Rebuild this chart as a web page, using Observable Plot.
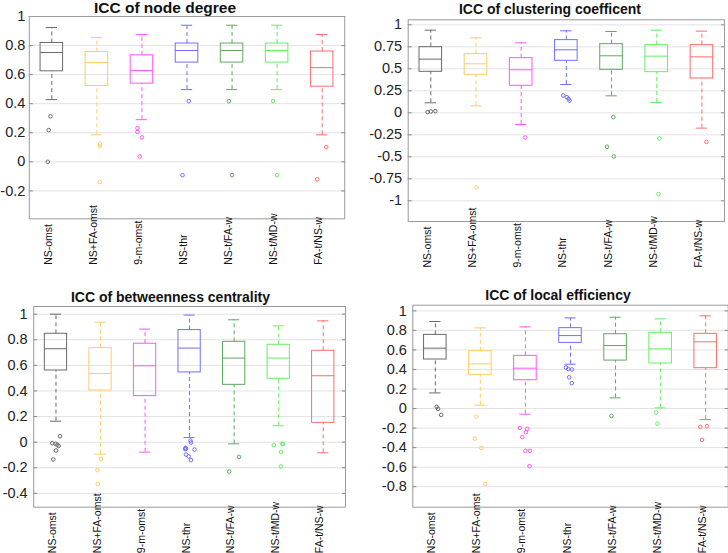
<!DOCTYPE html>
<html><head><meta charset="utf-8">
<script src="https://cdn.jsdelivr.net/npm/d3@7"></script>
<script src="https://cdn.jsdelivr.net/npm/@observablehq/plot@0.6"></script>
<style>
html,body{margin:0;padding:0;background:#fff;}
#chart{position:relative;width:728px;height:553px;overflow:hidden;background:#fff;font-family:"Liberation Sans",Arial,Helvetica,sans-serif;}
#chart svg{position:absolute;left:0;top:0;overflow:visible;}
</style></head><body><div id="chart"></div>
<script>
// ---- categories & colours ----
const methods = ["NS-omst","NS+FA-omst","9-m-omst","NS-thr","NS-t/FA-w","NS-t/MD-w","FA-t/NS-w"];
const methodColors = ["#6a6a6a","#ffcc66","#ff55ff","#6f6fff","#5fa85f","#63f063","#ff6b6b"];

// ---- box statistics: [lower whisker, Q1, median, Q3, upper whisker] per method ----
const nodeDegreeBoxes = [
  [0.428,0.623,0.752,0.818,0.924],
  [0.186,0.522,0.683,0.756,0.855],
  [0.290,0.538,0.628,0.733,0.876],
  [0.497,0.683,0.766,0.814,0.940],
  [0.497,0.683,0.766,0.814,0.940],
  [0.497,0.683,0.766,0.814,0.940],
  [0.186,0.517,0.648,0.759,0.876]
];
const clusteringBoxes = [
  [0.114,0.466,0.610,0.746,0.939],
  [0.080,0.432,0.557,0.667,0.852],
  [-0.133,0.307,0.489,0.621,0.795],
  [0.322,0.591,0.716,0.826,0.932],
  [0.193,0.489,0.648,0.780,0.924],
  [0.117,0.462,0.644,0.769,0.939],
  [-0.174,0.390,0.636,0.769,0.928]
];
const betweennessBoxes = [
  [0.164,0.560,0.730,0.847,1.000],
  [-0.094,0.404,0.537,0.735,0.938],
  [-0.078,0.360,0.597,0.769,0.883],
  [0.036,0.545,0.735,0.876,0.993],
  [-0.013,0.448,0.657,0.784,0.956],
  [0.128,0.495,0.657,0.761,0.909],
  [-0.083,0.151,0.519,0.714,0.948]
];
const localEfficiencyBoxes = [
  [0.160,0.502,0.618,0.754,0.891],
  [0.034,0.345,0.457,0.587,0.826],
  [-0.058,0.290,0.413,0.539,0.836],
  [0.454,0.672,0.747,0.823,0.928],
  [0.109,0.491,0.645,0.761,0.935],
  [0.007,0.461,0.611,0.775,0.918],
  [-0.113,0.413,0.683,0.765,0.949]
];

// ---- outliers: [method index, value, horizontal jitter] ----
const nodeDegreeOutliers = [
  [0,0.313,-0.03],[0,0.218,-0.07],[0,0.0,-0.09],
  [1,0.12,0.07],[1,0.106,0.06],[1,-0.14,0.06],
  [2,0.232,-0.1],[2,0.205,-0.1],[2,0.168,0.0],[2,0.037,-0.05],
  [3,0.418,0.04],[3,-0.092,-0.1],
  [4,0.418,-0.07],[4,-0.092,0],
  [5,0.418,-0.09],[5,-0.092,0],
  [6,0.101,0.09],[6,-0.12,-0.11]
];
const clusteringOutliers = [
  [0,0.008,-0.07],[0,0.015,0],[0,0.019,0.1],
  [1,-0.848,0.01],
  [2,-0.28,0.09],
  [3,0.197,-0.07],[3,0.178,0.01],[3,0.16,0.05],[3,0.14,0.07],
  [4,-0.049,0.04],[4,-0.386,-0.1],[4,-0.496,0.05],
  [5,-0.292,0.06],[5,-0.924,0.04],
  [6,-0.33,0.1]
];
const betweennessOutliers = [
  [0,0.047,0.09],[0,-0.008,-0.085],[0,-0.013,-0.01],[0,-0.02,0.03],[0,-0.029,0.06],[0,-0.065,0],[0,-0.135,-0.06],
  [1,-0.133,0.01],[1,-0.219,-0.07],[1,-0.326,-0.06],
  [3,0.012,0.02],[3,-0.003,0.03],[3,-0.045,-0.09],[3,-0.05,-0.08],[3,-0.055,-0.1],[3,-0.058,0.11],[3,-0.097,-0.08],[3,-0.112,-0.02],[3,-0.14,0.03],
  [4,-0.115,0.11],[4,-0.229,-0.11],
  [5,-0.023,-0.11],[5,-0.013,0.08],[5,-0.015,0.1],[5,-0.078,0.05],[5,-0.19,0.05]
];
const localEfficiencyOutliers = [
  [0,0.017,0.03],[0,-0.003,0.06],[0,-0.065,0.13],
  [1,-0.082,-0.09],[1,-0.307,-0.12],[1,-0.403,0.02],[1,-0.771,0.11],
  [2,-0.198,-0.12],[2,-0.208,0.04],[2,-0.242,0.01],[2,-0.293,-0.07],[2,-0.433,0],[2,-0.433,0.1],[2,-0.59,0.09],
  [3,0.42,-0.1],[3,0.405,-0.05],[3,0.4,0.03],[3,0.32,-0.03],[3,0.26,0.03],
  [4,-0.075,-0.09],
  [5,-0.041,-0.1],[5,-0.154,-0.07],
  [6,-0.188,-0.12],[6,-0.181,0.03],[6,-0.321,-0.08]
];

// ---- tick values ----
const nodeDegreeTicks = [-0.2,0,0.2,0.4,0.6,0.8,1];
const clusteringTicks = [-1,-0.75,-0.5,-0.25,0,0.25,0.5,0.75,1];
const betweennessTicks = [-0.4,-0.2,0,0.2,0.4,0.6,0.8,1];
const localEfficiencyTicks = [-0.8,-0.6,-0.4,-0.2,0,0.2,0.4,0.6,0.8,1];

// ---- panel layout ----
const W = 728, H = 553;
const panels = [
  {title:"ICC of node degree", boxes:nodeDegreeBoxes, outliers:nodeDegreeOutliers, ticks:nodeDegreeTicks,
   domain:[-0.392,1], L:28.8, R:344.2, T:16, B:218.3, pad:4, tx:165, ty:12.5, tsize:15.5},
  {title:"ICC of clustering coefficent", boxes:clusteringBoxes, outliers:clusteringOutliers, ticks:clusteringTicks,
   domain:[-1.235,1.057], L:407.7, R:724, T:19.3, B:221, pad:6, tx:550, ty:13.5, tsize:14},
  {title:"ICC of betweenness centrality", boxes:betweennessBoxes, outliers:betweennessOutliers, ticks:betweennessTicks,
   domain:[-0.508,1.06], L:33.2, R:345, T:306, B:506.7, pad:6, tx:170.5, ty:301.5, tsize:14},
  {title:"ICC of local efficiency", boxes:localEfficiencyBoxes, outliers:localEfficiencyOutliers, ticks:localEfficiencyTicks,
   domain:[-1.01,1.058], L:412.3, R:727.7, T:304.7, B:506.7, pad:6, tx:558, ty:300, tsize:14}
];

const chart = document.getElementById("chart");
const fmt = d => String(d);

for (const p of panels) {
  const stats = p.boxes.map((b,i) => ({pos:i+1, lo:b[0], q1:b[1], med:b[2], q3:b[3], hi:b[4], color:methodColors[i]}));
  const outs = p.outliers.map(o => ({pos:o[0]+1, value:o[1], jitter:o[2], color:methodColors[o[0]]}));
  const labels = methods.map((m,i) => ({pos:i+1, name:m}));
  const svg = Plot.plot({
    width: W, height: H,
    marginLeft: p.L, marginRight: W - p.R, marginTop: p.T, marginBottom: H - p.B,
    x: {domain:[0.5,7.5], axis:null},
    y: {domain:p.domain},
    color: {type:"identity"},
    style: {fontFamily:'"Liberation Sans",Arial,Helvetica,sans-serif', fontSize:"14.5px", background:"transparent", overflow:"visible", color:"#000"},
    marks: [
      Plot.gridY(p.ticks, {stroke:"#e2e2e2", strokeOpacity:1}),
      Plot.axisY({anchor:"left", ticks:p.ticks, tickSize:4, dx:4, tickFormat:()=>"", label:null, stroke:"#888"}),
      Plot.axisY({anchor:"right", ticks:p.ticks, tickSize:4, dx:-4, tickFormat:()=>"", label:null, stroke:"#888"}),
      Plot.axisY({anchor:"left", ticks:p.ticks, tickSize:0, tickPadding:p.pad, tickFormat:fmt, label:null, fontSize:14.5, fill:"#222"}),
      Plot.frame({stroke:"#9a9a9a"}),
      Plot.ruleX(stats, {x:"pos", y1:"q3", y2:"hi", stroke:"color", strokeDasharray:"4,3"}),
      Plot.ruleX(stats, {x:"pos", y1:"lo", y2:"q1", stroke:"color", strokeDasharray:"4,3"}),
      Plot.ruleY(stats, {y:"hi", x1:d=>d.pos-0.125, x2:d=>d.pos+0.125, stroke:"color"}),
      Plot.ruleY(stats, {y:"lo", x1:d=>d.pos-0.125, x2:d=>d.pos+0.125, stroke:"color"}),
      Plot.rect(stats, {x1:d=>d.pos-0.25, x2:d=>d.pos+0.25, y1:"q1", y2:"q3", stroke:"color", fill:"none"}),
      Plot.ruleY(stats, {y:"med", x1:d=>d.pos-0.25, x2:d=>d.pos+0.25, stroke:"color"}),
      Plot.dot(outs, {x:d=>d.pos+d.jitter, y:"value", r:1.8, stroke:"color", fill:"none", strokeWidth:1}),
      Plot.text(labels, {x:"pos", text:"name", frameAnchor:"bottom", rotate:-90, textAnchor:"start", dy:46, fontSize:10.5, fill:"#111"})
    ]
  });
  chart.appendChild(svg);
}

// titles
const tsvg = d3.select(chart).append("svg").attr("width", W).attr("height", H);
tsvg.selectAll("text").data(panels).join("text")
  .attr("x", d => d.tx).attr("y", d => d.ty)
  .attr("text-anchor", "middle")
  .attr("font-family", '"Liberation Sans",Arial,Helvetica,sans-serif')
  .attr("font-weight", "bold")
  .attr("font-size", d => d.tsize)
  .attr("fill", "#111")
  .text(d => d.title);
</script>
</body></html>
